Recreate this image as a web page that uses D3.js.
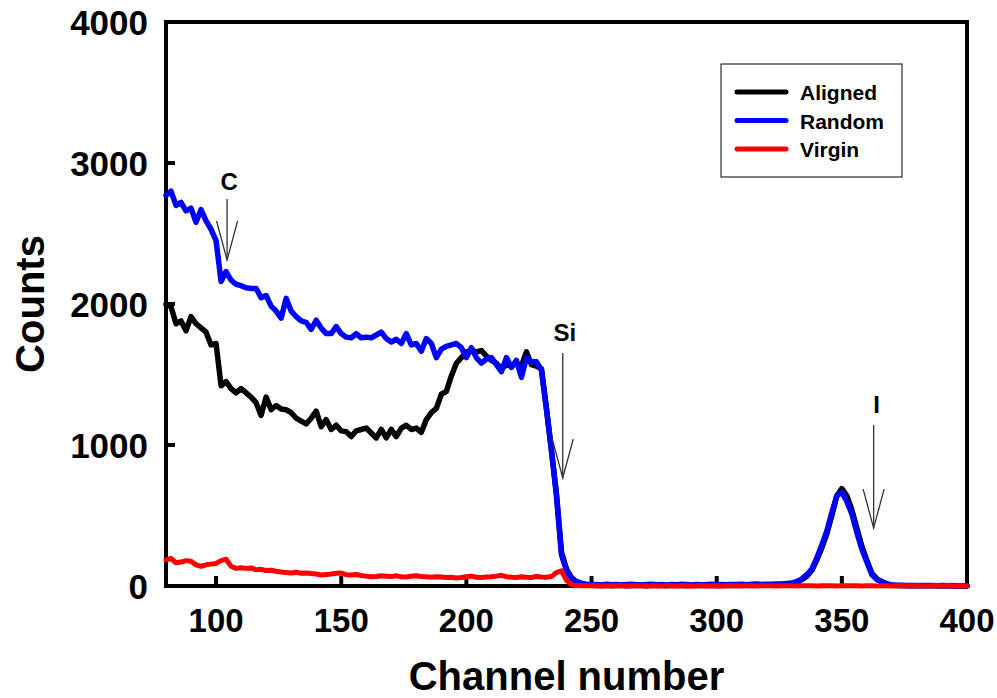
<!DOCTYPE html>
<html>
<head>
<meta charset="utf-8">
<script src="https://cdn.jsdelivr.net/npm/d3@7"></script>
<style>
  body { margin: 0; background: #fff; }
  text { font-family: "Liberation Sans", Arial, Helvetica, sans-serif; font-weight: bold; }
</style>
</head>
<body>
<svg id="chart" width="997" height="698"></svg>
<script>
// channels start at 80, one reading every 2 channels up to 400
var channelStart = 80, channelStep = 2;

var aligned = [
  2000,1980,1860,1880,1810,1910,1860,1830,1800,1710,1720,
  1420,1450,1400,1370,1400,1370,1340,1300,1210,1340,
  1250,1280,1255,1250,1230,1190,1170,1150,1190,1240,
  1130,1180,1110,1140,1100,1095,1060,1100,1110,1120,
  1085,1050,1110,1050,1110,1060,1120,1140,1110,1120,
  1090,1180,1230,1260,1360,1380,1490,1580,1620,1660,
  1670,1660,1670,1630,1600,1580,1540,1570,1560,1580,
  1560,1660,1570,1560,1540,1260,960,650,240,120,
  60,30,15,8,5,
  4,3,5,2,4,3,2,4,5,3,2,4,3,5,2,3,4,3,2,4,
  3,5,4,3,2,4,3,5,4,6,5,4,6,5,7,8,9,10,14,18,
  25,45,70,110,185,270,370,500,640,690,
  640,540,410,280,180,90,50,30,15,5,
  3,2,2,1,2,1,1,2,1,1,1,1,0,1,0
];

var random = [
  2770,2800,2700,2720,2660,2680,2580,2670,2590,2530,2450,
  2160,2230,2170,2140,2130,2115,2110,2110,2045,2060,
  1985,1950,1900,2040,1950,1910,1880,1870,1820,1885,
  1830,1790,1790,1840,1790,1765,1760,1790,1760,1765,
  1760,1780,1800,1755,1730,1750,1720,1790,1710,1720,
  1665,1755,1720,1620,1680,1700,1710,1720,1690,1620,
  1690,1620,1580,1610,1620,1570,1520,1620,1550,1600,
  1480,1620,1590,1590,1530,1250,960,640,220,110,
  55,30,20,12,8,
  10,8,12,9,11,7,10,13,9,8,10,12,9,11,8,10,9,12,10,8,
  11,9,10,12,8,10,9,11,10,13,9,12,14,11,13,12,15,14,18,22,
  30,50,80,120,200,290,390,520,640,665,
  600,510,380,260,170,80,45,30,15,8,
  6,5,4,4,3,3,4,3,2,3,2,3,2,2,2
];

var virgin = [
  185,195,165,170,180,175,150,140,150,155,160,
  180,190,140,125,130,125,128,115,118,110,
  112,105,100,95,92,98,90,92,88,85,
  78,82,85,90,92,80,78,82,75,70,
  65,68,72,70,68,72,66,64,70,72,
  68,65,62,66,64,60,62,57,60,65,
  70,62,60,64,66,70,76,66,62,60,
  66,62,60,68,64,62,68,95,108,40,
  10,3,2,1,2,1,0,1,2,1,
  1,0,1,2,1,0,1,1,0,2,
  1,0,1,1,0,2,1,0,1,1,
  0,1,2,1,0,1,1,0,1,2,
  1,0,1,2,1,0,1,2,1,0,
  1,2,1,0,1,1,2,1,0,1,
  1,0,1,1,0,1,2,1,0,1,
  1,0,1,1,0,1,1,0,1,0
];

var seriesNames = ["Aligned", "Random", "Virgin"];
var seriesColors = ["#000000", "#0000ff", "#ff0000"];

var xTicks = [100, 150, 200, 250, 300, 350, 400];
var yTicks = [0, 1000, 2000, 3000, 4000];

// element labels: [text, channel, arrow top count, arrow tip count]
var peakLabels = [
  ["C", 104.4, 2745, 2312],
  ["Si", 238.5, 1652, 766],
  ["I", 362.7, 1142, 411]
];

var svg = d3.select("#chart");
var margin = {left: 166, right: 30, top: 22, bottom: 112};
var W = 997, H = 698;

var x = d3.scaleLinear().domain([80, 400]).range([margin.left, W - margin.right]);
var y = d3.scaleLinear().domain([0, 4000]).range([H - margin.bottom, margin.top]);

function toPoints(vals) {
  return vals.map(function(v, i){ return [channelStart + i*channelStep, v]; });
}

// frame
svg.append("rect")
  .attr("x", x(80)).attr("y", y(4000))
  .attr("width", x(400) - x(80)).attr("height", y(0) - y(4000))
  .attr("fill", "none").attr("stroke", "#000").attr("stroke-width", 4);

// inward ticks
svg.selectAll(".xtick").data(xTicks.slice(0, -1)).enter().append("line")
  .attr("x1", function(d){ return x(d); }).attr("x2", function(d){ return x(d); })
  .attr("y1", y(0)).attr("y2", y(0) - 10)
  .attr("stroke", "#000").attr("stroke-width", 4);

svg.selectAll(".ytick").data(yTicks.slice(1, -1)).enter().append("line")
  .attr("x1", x(80)).attr("x2", x(80) + 9)
  .attr("y1", function(d){ return y(d); }).attr("y2", function(d){ return y(d); })
  .attr("stroke", "#000").attr("stroke-width", 4);

// tick labels
svg.selectAll(".xlab").data(xTicks).enter().append("text")
  .attr("x", function(d){ return x(d); })
  .attr("y", y(0) + 46)
  .attr("text-anchor", "middle")
  .attr("font-size", 33)
  .text(function(d){ return d; });

svg.selectAll(".ylab").data(yTicks).enter().append("text")
  .attr("x", x(80) - 18)
  .attr("y", function(d){ return y(d) + 13; })
  .attr("text-anchor", "end")
  .attr("font-size", 35)
  .text(function(d){ return d; });

// axis titles
svg.append("text")
  .attr("x", (x(80) + x(400)) / 2).attr("y", 690)
  .attr("text-anchor", "middle").attr("font-size", 40)
  .text("Channel number");

svg.append("text")
  .attr("transform", "translate(44," + ((y(0) + y(4000)) / 2) + ") rotate(-90)")
  .attr("text-anchor", "middle").attr("font-size", 40)
  .text("Counts");

// curves
var line = d3.line()
  .x(function(d){ return x(d[0]); })
  .y(function(d){ return y(d[1]); });

[aligned, random, virgin].forEach(function(vals, i) {
  svg.append("path")
    .datum(toPoints(vals))
    .attr("d", line)
    .attr("fill", "none")
    .attr("stroke", seriesColors[i])
    .attr("stroke-width", i == 2 ? 5 : 5.5)
    .attr("stroke-linejoin", "round")
    .attr("stroke-linecap", "round");
});

// peak arrows
peakLabels.forEach(function(p) {
  var px = x(p[1]), top = y(p[2]), tip = y(p[3]);
  var g = svg.append("g").attr("stroke", "#333").attr("stroke-width", 1.3).attr("fill", "none");
  g.append("line").attr("x1", px).attr("x2", px).attr("y1", top).attr("y2", tip);
  g.append("path").attr("d", "M" + (px - 10.5) + "," + (tip - 39) + "L" + px + "," + tip + "L" + (px + 10.5) + "," + (tip - 39));
  svg.append("text")
    .attr("x", px + (p[0] == "I" ? 3 : 2)).attr("y", top - (p[0] == "C" ? 9 : 12))
    .attr("text-anchor", "middle").attr("font-size", 24)
    .text(p[0]);
});

// legend
var legend = svg.append("g");
legend.append("rect")
  .attr("x", 721).attr("y", 64).attr("width", 181).attr("height", 113)
  .attr("fill", "#fff").attr("stroke", "#000").attr("stroke-width", 1);

legend.selectAll(".legLine").data(seriesNames).enter().append("line")
  .attr("x1", 737).attr("x2", 786)
  .attr("y1", function(d, i){ return 92 + 28.5*i; })
  .attr("y2", function(d, i){ return 92 + 28.5*i; })
  .attr("stroke", function(d, i){ return seriesColors[i]; })
  .attr("stroke-width", 5).attr("stroke-linecap", "round");

legend.selectAll(".legText").data(seriesNames).enter().append("text")
  .attr("x", 800)
  .attr("y", function(d, i){ return 100 + 28.5*i; })
  .attr("font-size", 21)
  .text(function(d){ return d; });
</script>
</body>
</html>
